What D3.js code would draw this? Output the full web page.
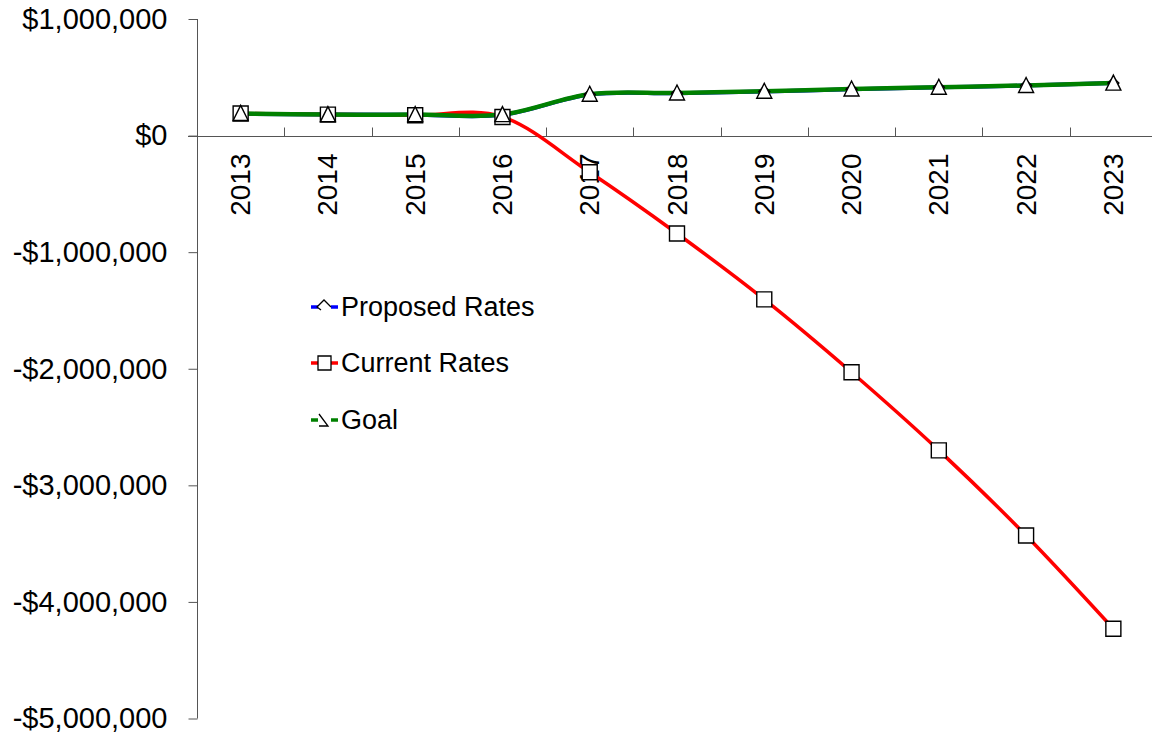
<!DOCTYPE html>
<html>
<head>
<meta charset="utf-8">
<script src="https://cdn.jsdelivr.net/npm/d3@7"></script>
<style>
  html, body { margin: 0; padding: 0; background: #fff; }
  svg { display: block; font-family: "Liberation Sans", Arial, sans-serif; }
</style>
</head>
<body>
<svg id="chart" width="1152" height="738"></svg>
<script>
// Fiscal years on the category axis
const years = ["2013", "2014", "2015", "2016", "2017", "2018", "2019", "2020", "2021", "2022", "2023"];

// Net position per year, in dollars
const proposedRates = [186000, 180000, 178000, 178000, 352000, 363000, 378000, 398000, 414000, 429000, 450000];
const currentRates  = [190000, 180000, 175000, 160000, -315000, -840000, -1405000, -2030000, -2700000, -3430000, -4230000];
const goal          = [190000, 180000, 180000, 180000, 355000, 365000, 380000, 400000, 415000, 430000, 450000];

// Value axis ticks
const yTicks = [1000000, 0, -1000000, -2000000, -3000000, -4000000, -5000000];

const series = [
  { name: "Proposed Rates", values: proposedRates, color: "#0000ff", width: 4, marker: "diamond" },
  { name: "Current Rates",  values: currentRates,  color: "#ff0000", width: 3.5, marker: "square" },
  { name: "Goal",           values: goal,          color: "#008000", width: 4.5, marker: "triangle" }
];

const svg = d3.select("#chart");

const x = d3.scalePoint().domain(years).range([197, 1157]).padding(0.5);
const band = d3.scaleBand().domain(years).range([197, 1157]);
const y = d3.scaleLinear().domain([-5000000, 1000000]).range([718.5, 19]);

const money = v => (v < 0 ? "-$" : "$") + d3.format(",")(Math.abs(v));

// Value axis
const yAxis = svg.append("g")
  .attr("transform", "translate(197.5,0)")
  .call(d3.axisLeft(y).tickValues(yTicks).tickSize(9).tickPadding(21).tickFormat(money));
yAxis.select(".domain").attr("d", `M0,${y(1000000)}V${y(-5000000)}`).attr("stroke", "#555");
yAxis.selectAll(".tick line").attr("stroke", "#555");
yAxis.selectAll(".tick text")
  .attr("font-size", 29)
  .attr("font-family", "Liberation Sans, Arial, sans-serif")
  .attr("fill", "#000");

// Category axis along $0, ticks between categories pointing up
const y0 = Math.round(y(0)) + 0.5;
const xAxis = svg.append("g");
xAxis.append("line")
  .attr("x1", 188).attr("x2", 1152)
  .attr("y1", y0).attr("y2", y0)
  .attr("stroke", "#555");
xAxis.selectAll("line.tk")
  .data(years.slice(1))
  .join("line")
  .attr("class", "tk")
  .attr("x1", d => Math.round(band(d)) + 0.5)
  .attr("x2", d => Math.round(band(d)) + 0.5)
  .attr("y1", y0).attr("y2", y0 - 9)
  .attr("stroke", "#555");
xAxis.selectAll("text")
  .data(years)
  .join("text")
  .attr("transform", d => `translate(${x(d)},${y0 + 17}) rotate(-90)`)
  .attr("text-anchor", "end")
  .attr("dominant-baseline", "central")
  .attr("font-size", 28)
  .attr("fill", "#000")
  .text(d => d);

// Smoothed series lines
const line = d3.line()
  .x((d, i) => x(years[i]))
  .y(d => y(d))
  .curve(d3.curveCardinal.tension(0));

svg.append("g")
  .selectAll("path")
  .data(series)
  .join("path")
  .attr("d", d => line(d.values))
  .attr("fill", "none")
  .attr("stroke", d => d.color)
  .attr("stroke-width", d => d.width)
  .attr("stroke-linejoin", "round")
  .attr("stroke-linecap", "round");

// Marker shapes
function markerPath(type, s) {
  if (type === "square") return `M${-s},${-s}H${s}V${s}H${-s}Z`;
  if (type === "diamond") return `M0,${-s}L${s},0L0,${s}L${-s},0Z`;
  return `M0,${-s - 1}L${s + 0.5},${s}H${-s - 0.5}Z`;
}
const markerSize = { square: 7.5, diamond: 5.5, triangle: 7 };

series.forEach(s => {
  svg.append("g")
    .selectAll("path")
    .data(s.values)
    .join("path")
    .attr("transform", (d, i) => `translate(${x(years[i])},${y(d)})`)
    .attr("d", markerPath(s.marker, markerSize[s.marker]))
    .attr("fill", "#fff")
    .attr("stroke", "#000")
    .attr("stroke-width", 1.4);
});

// Legend
const legend = svg.append("g").attr("transform", "translate(311,0)");
const legendRows = [307, 363, 420];
series.forEach((s, i) => {
  const g = legend.append("g").attr("transform", `translate(0,${legendRows[i]})`);
  g.append("line").attr("x1", 0).attr("x2", 7).attr("stroke", s.color).attr("stroke-width", 3.5);
  g.append("line").attr("x1", 20).attr("x2", 27).attr("stroke", s.color).attr("stroke-width", 3.5);
  let d;
  if (s.marker === "square") d = "M7,-7H20V7H7Z";
  else if (s.marker === "diamond") d = "M10,3L6,0L13,-7L20,0";
  else d = "M8,-6L17,6H8";
  g.append("path")
    .attr("d", d)
    .attr("fill", s.marker === "square" ? "#fff" : "none")
    .attr("stroke", "#000")
    .attr("stroke-width", 1.3);
  g.append("text")
    .attr("x", 30)
    .attr("dominant-baseline", "central")
    .attr("font-size", 27)
    .attr("fill", "#000")
    .text(s.name);
});
</script>
</body>
</html>
